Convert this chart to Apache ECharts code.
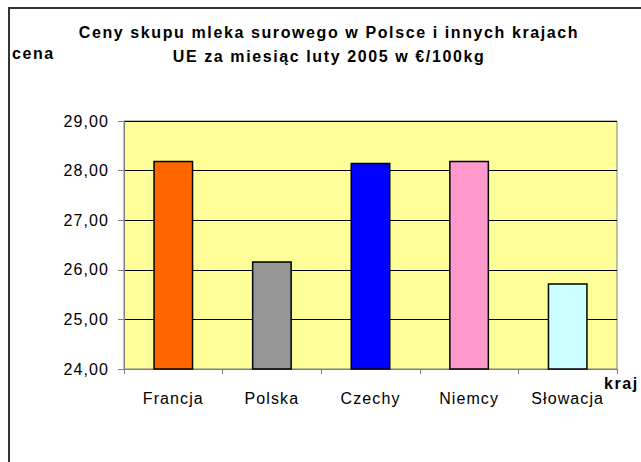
<!DOCTYPE html>
<html>
<head>
<meta charset="utf-8">
<script src="https://cdn.jsdelivr.net/npm/echarts@6/dist/echarts.min.js"></script>
<style>
html, body { margin: 0; padding: 0; background: #fff; }
#container1 { width: 641px; height: 462px; }
#container1 text { letter-spacing: 1.1px; }
#container1 text[style*="bold"] { letter-spacing: 1.6px; }
</style>
</head>
<body>
<div id="container1"></div>
<script>
// ceny skupu mleka, luty 2005, EUR/100kg
var kraje   = ['Francja', 'Polska', 'Czechy', 'Niemcy', 'Słowacja'];
var ceny    = [28.20, 26.17, 28.16, 28.20, 25.73];
var kolory  = ['#FF6600', '#969696', '#0000FF', '#FF99CC', '#CCFFFF'];
var yTicks  = [24, 25, 26, 27, 28, 29];

var dom    = document.getElementById("container1");
var chart1 = echarts.init(dom, null, {renderer: 'svg'});

var data1 = [];
for (var i in ceny) {
    data1[i] = {value: ceny[i], itemStyle: {color: kolory[i]}};
}

option = {
    backgroundColor: '#fff',
    animation: false,
    title: {
        text: 'Ceny skupu mleka surowego w Polsce i innych krajach\nUE za miesiąc luty 2005 w €/100kg',
        left: 324,
        top: 15,
        textAlign: 'center',
        textStyle: {
            fontFamily: 'Liberation Sans',
            fontSize: 16,
            fontWeight: 'bold',
            color: '#000',
            lineHeight: 24
        }
    },
    graphic: [
        {
            type: 'rect',
            shape: {x: 9, y: 8, width: 700, height: 500},
            style: {fill: 'none', stroke: '#333', lineWidth: 2},
            silent: true
        },
        {
            type: 'text',
            left: 12,
            top: 45,
            style: {text: 'cena', font: 'bold 16px "Liberation Sans"', fill: '#000'}
        },
        {
            type: 'text',
            left: 604,
            top: 375,
            style: {text: 'kraj', font: 'bold 16px "Liberation Sans"', fill: '#000'}
        }
    ],
    grid: {
        left: 124,
        right: 24,
        top: 121,
        bottom: 93,
        show: true,
        backgroundColor: '#FFFF99',
        borderColor: '#808080',
        borderWidth: 1
    },
    xAxis: {
        type: 'category',
        data: kraje,
        axisLine: {lineStyle: {color: '#808080', width: 1}},
        axisTick: {show: true, length: 5, lineStyle: {color: '#808080'}},
        axisLabel: {
            interval: 0,
            margin: 21,
            color: '#000',
            fontFamily: 'Liberation Sans',
            fontSize: 16
        }
    },
    yAxis: {
        type: 'value',
        min: yTicks[0],
        max: yTicks[yTicks.length - 1],
        interval: 1,
        axisLine: {show: true, lineStyle: {color: '#808080', width: 1}},
        axisTick: {show: true, length: 6, lineStyle: {color: '#808080'}},
        splitLine: {lineStyle: {color: '#000', width: 1}},
        axisLabel: {
            margin: 15,
            color: '#000',
            fontFamily: 'Liberation Sans',
            fontSize: 16,
            formatter: function (v) { return v.toFixed(2).replace('.', ','); }
        }
    },
    series: [
        {
            name: 'cena',
            type: 'bar',
            barWidth: 40,
            data: data1,
            itemStyle: {borderColor: '#000', borderWidth: 1.5}
        }
    ]
};

chart1.setOption(option, true);
</script>
</body>
</html>
